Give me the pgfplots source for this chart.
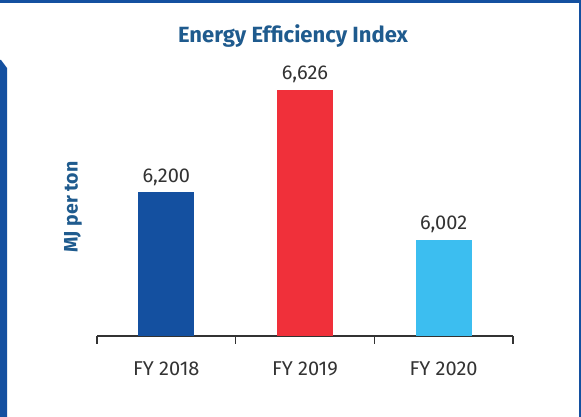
\documentclass[border=0pt]{standalone}
\usepackage{fontspec}
\setmainfont{Fira Sans}
\usepackage{pgfplots}
\pgfplotsset{compat=1.18}
\definecolor{frameblue}{HTML}{1450A0}
\definecolor{titleblue}{HTML}{1F5B8E}
\definecolor{bar1}{HTML}{1450A0}
\definecolor{bar2}{HTML}{F0303A}
\definecolor{bar3}{HTML}{3CBEF0}
\definecolor{txt}{HTML}{333333}
\begin{document}
\begin{tikzpicture}[x=1pt,y=1pt]
\useasboundingbox (0,0) rectangle (581,417);
\fill[white] (0,0) rectangle (581,417);
\fill[frameblue] (0,414) rectangle (581,417);
\fill[frameblue] (578.5,0) rectangle (581,417);
\fill[frameblue] (0,0) -- (0,357) -- (1,357) -- (7,349) -- (7,0) -- cycle;
\node[text=titleblue,font=\fontsize{22}{26}\selectfont\bfseries] at (293,381) {Energy Efficiency Index};
\node[text=titleblue,font=\fontsize{19.5}{22}\selectfont\bfseries,rotate=90] at (73,210) {MJ per ton};
\begin{axis}[
  at={(97pt,81pt)}, anchor=south west,
  scale only axis, width=416pt, height=264pt,
  xmin=-0.5, xmax=2.5, ymin=5600, ymax=6700,
  axis x line*=bottom, axis y line=none,
  axis line style={txt, line width=1.3pt},
  xtick={0,1,2}, xticklabels={FY 2018,FY 2019,FY 2020},
  major tick length=0pt,
  extra x ticks={-0.5,0.5,1.5,2.5}, extra x tick labels={},
  extra x tick style={major tick length=8pt, tick align=outside, tick style={txt, line width=1.3pt}},
  xticklabel style={text=txt, font=\fontsize{20}{24}\selectfont, yshift=-22pt},
  ybar, bar width=56pt, bar shift=0pt,
  nodes near coords,
  nodes near coords style={text=txt, font=\fontsize{20}{24}\selectfont, /pgf/number format/assume math mode=true, /pgf/number format/1000 sep={,}, yshift=3pt},
  clip=false,
]
\addplot[draw=none, fill=bar1] coordinates {(0,6200)};
\addplot[draw=none, fill=bar2] coordinates {(1,6626)};
\addplot[draw=none, fill=bar3] coordinates {(2,6002)};
\end{axis}
\end{tikzpicture}
\end{document}
